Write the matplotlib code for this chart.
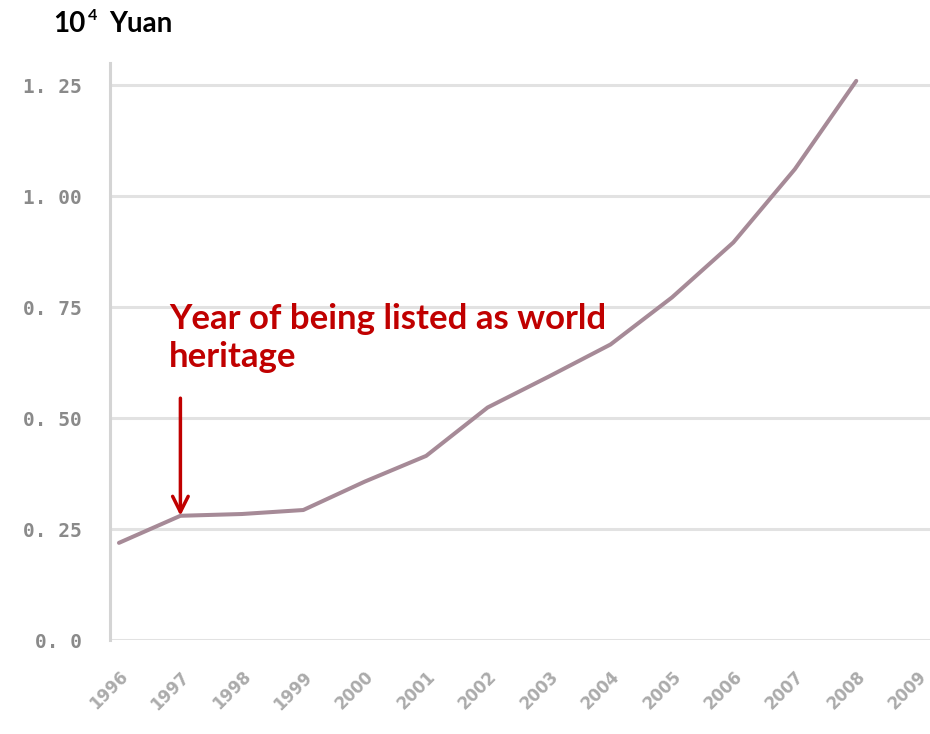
import matplotlib
matplotlib.use("Agg")
import matplotlib.pyplot as plt

# data (unit: 10^4 yuan)
years = [1996, 1997, 1998, 1999, 2000, 2001, 2002, 2003, 2004, 2005, 2006, 2007, 2008]
values = [0.219, 0.280, 0.284, 0.293, 0.357, 0.415, 0.524, 0.594, 0.666, 0.772, 0.896, 1.061, 1.26]
tick_years = list(range(1996, 2010))
y_ticks = [0.0, 0.25, 0.50, 0.75, 1.00, 1.25]
y_labels = ["0. 0", "0. 25", "0. 50", "0. 75", "1. 00", "1. 25"]
listed_year = 1997

fig = plt.figure(figsize=(9.3, 7.34), dpi=100)
ax = fig.add_axes([0.118, 0.128, 0.882, 0.786])

# grid
for v in y_ticks:
    ax.axhline(v, color="#e2e2e2", lw=2.2, zorder=0)

ax.plot(years, values, color="#a68a97", lw=2.9, zorder=3, solid_capstyle="round")

ax.set_xlim(1995.85, 2009.2)
ax.set_ylim(0, 1.30)
ax.set_xticks(tick_years)
ax.set_xticklabels([str(y) for y in tick_years], rotation=45, ha="right",
                   rotation_mode="anchor", color="#ababab", fontsize=12,
                   fontweight="bold")
ax.set_yticks(y_ticks)
ax.set_yticklabels(y_labels, color="#8a8a8a", fontsize=14, fontweight="bold",
                   family="DejaVu Sans Mono")
ax.tick_params(axis="x", length=0, pad=20)
ax.tick_params(axis="y", length=0, pad=20)

for s in ["top", "right", "bottom"]:
    ax.spines[s].set_visible(False)
ax.spines["left"].set_color("#d4d4d4")
ax.spines["left"].set_linewidth(2.2)

# annotation
i = years.index(listed_year)
ax.annotate("", xy=(listed_year, values[i]), xytext=(listed_year, 0.545),
            arrowprops=dict(arrowstyle="->", color="#c00000", lw=2.5,
                            mutation_scale=28, shrinkA=0, shrinkB=0))
ax.text(0.072, 0.585, "Year of being listed as world\nheritage", transform=ax.transAxes,
        color="#c00000", fontsize=25, fontweight="bold", family="Lato",
        va="top", ha="left", linespacing=1.25)

# unit label
fig.text(53 / 930, 1 - 32 / 734, "10", fontsize=20, fontweight="bold", family="Lato",
         va="baseline", ha="left")
fig.text(88 / 930, 1 - 20 / 734, "4", fontsize=11.5, fontweight="bold", family="Lato",
         va="baseline", ha="left")
fig.text(109 / 930, 1 - 32 / 734, "Yuan", fontsize=20, fontweight="bold", family="Lato",
         va="baseline", ha="left")

fig.savefig("out.png", dpi=100, facecolor="white")
